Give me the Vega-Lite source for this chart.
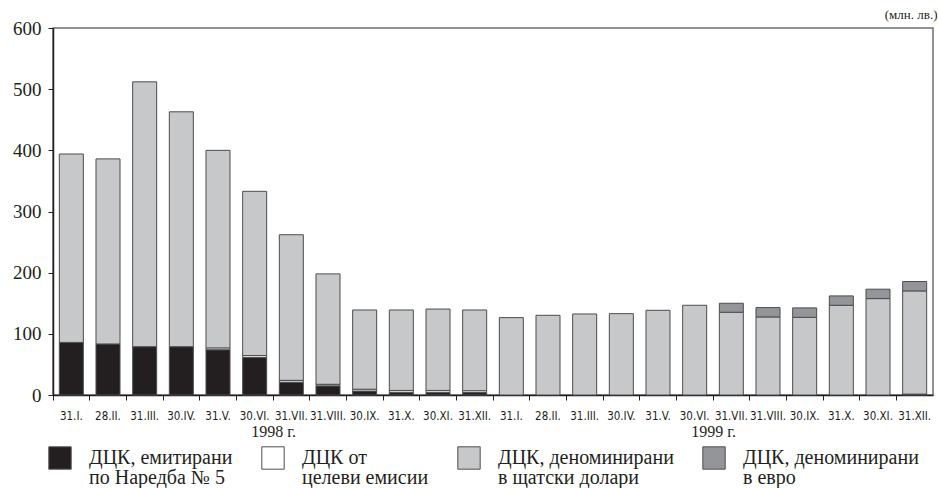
{
  "$schema": "https://vega.github.io/schema/vega-lite/v6.json",
  "width": 880,
  "height": 367,
  "autosize": {"type": "none"},
  "padding": {"left": 53, "top": 28, "right": 5, "bottom": 93},
  "background": "white",
  "config": {"view": {"stroke": "#6d6e71", "strokeWidth": 1.5}, "axis": {"grid": false}},
  "layer": [
    {
      "data": {"values": [
        {"d": "31.I.|98", "a": 86, "b": 0, "c": 308, "e": 0},
        {"d": "28.II.|98", "a": 83.5, "b": 0, "c": 302.5, "e": 0},
        {"d": "31.III.|98", "a": 79, "b": 0, "c": 433, "e": 0},
        {"d": "30.IV.|98", "a": 79, "b": 0, "c": 384, "e": 0},
        {"d": "31.V.|98", "a": 74, "b": 3, "c": 323, "e": 0},
        {"d": "30.VI.|98", "a": 61.5, "b": 3, "c": 268.5, "e": 0},
        {"d": "31.VII.|98", "a": 21, "b": 3, "c": 238, "e": 0},
        {"d": "31.VIII.|98", "a": 15, "b": 2.5, "c": 180.5, "e": 0},
        {"d": "30.IX.|98", "a": 6.5, "b": 3, "c": 129.5, "e": 0},
        {"d": "31.X.|98", "a": 4.5, "b": 3, "c": 131.5, "e": 0},
        {"d": "30.XI.|98", "a": 4.5, "b": 3, "c": 133, "e": 0},
        {"d": "31.XII.|98", "a": 4, "b": 3, "c": 132, "e": 0},
        {"d": "31.I.|99", "a": 0, "b": 0, "c": 126.5, "e": 0},
        {"d": "28.II.|99", "a": 0, "b": 0, "c": 130.3, "e": 0},
        {"d": "31.III.|99", "a": 0, "b": 0, "c": 132.5, "e": 0},
        {"d": "30.IV.|99", "a": 0, "b": 0, "c": 133, "e": 0},
        {"d": "31.V.|99", "a": 0, "b": 0, "c": 138.5, "e": 0},
        {"d": "30.VI.|99", "a": 0, "b": 0, "c": 146.7, "e": 0},
        {"d": "31.VII.|99", "a": 0, "b": 0, "c": 135.3, "e": 14.7},
        {"d": "31.VIII.|99", "a": 0, "b": 0, "c": 127.6, "e": 15.3},
        {"d": "30.IX.|99", "a": 0, "b": 0, "c": 127, "e": 15.4},
        {"d": "31.X.|99", "a": 0, "b": 0, "c": 146.7, "e": 15.3},
        {"d": "30.XI.|99", "a": 0, "b": 0, "c": 157.6, "e": 15.4},
        {"d": "31.XII.|99", "a": 1.5, "b": 0, "c": 168.7, "e": 15.3}
      ]},
      "transform": [
        {"fold": ["a", "b", "c", "e"], "as": ["s", "v"]},
        {"filter": "datum.v > 0"}
      ],
      "mark": {"type": "bar", "stroke": "#4d4d4f", "strokeWidth": 1, "width": {"band": 0.655}},
      "encoding": {
        "x": {"field": "d", "type": "nominal", "sort": null,
          "scale": {"paddingInner": 0, "paddingOuter": 0},
          "axis": {"title": null, "labelExpr": "split(datum.label, '|')[0]", "labelAngle": 0, "bandPosition": 0,
            "domainColor": "#231f20", "domainWidth": 1.5, "tickColor": "#231f20", "tickSize": 5,
            "labelFont": "DejaVu Sans Condensed", "labelFontSize": 11.5, "labelColor": "#231f20",
            "labelPadding": 10, "labelBaseline": "top"}},
        "y": {"field": "v", "type": "quantitative", "stack": "zero",
          "scale": {"domain": [0, 600], "nice": false},
          "axis": {"title": "(млн. лв.)", "titleAngle": 0, "titleAlign": "right", "titleBaseline": "alphabetic",
            "titleX": 884, "titleY": -10, "titleFont": "Liberation Serif", "titleFontSize": 13, "titleFontWeight": "normal", "titleColor": "#231f20",
            "values": [0, 100, 200, 300, 400, 500, 600], "tickSize": 5,
            "labelFont": "Liberation Serif", "labelFontSize": 19, "labelPadding": 7,
            "domainColor": "#231f20", "tickColor": "#231f20", "labelColor": "#231f20", "domainWidth": 1.5}},
        "color": {"field": "s", "type": "nominal",
          "scale": {"domain": ["a", "b", "c", "e"], "range": ["#231f20", "#ffffff", "#c7c8ca", "#939598"]},
          "legend": {"title": null, "orient": "none", "direction": "horizontal", "legendX": -5, "legendY": 418,
            "symbolType": "square", "symbolSize": 500, "symbolStrokeColor": "#4d4d4f", "symbolStrokeWidth": 1, "symbolOpacity": 1,
            "labelFont": "Liberation Serif", "labelFontSize": 20, "labelColor": "#231f20", "labelOffset": 17,
            "columnPadding": 26, "labelLimit": 300, "padding": 0,
            "labelExpr": "datum.value == 'a' ? ['ДЦК, емитирани', 'по Наредба № 5'] : datum.value == 'b' ? ['ДЦК от', 'целеви емисии'] : datum.value == 'c' ? ['ДЦК, деноминирани', 'в щатски долари'] : ['ДЦК, деноминирани', 'в евро']",
            "encode": {"labels": {"update": {"lineHeight": {"value": 20}}}}}},
        "order": {"field": "s", "sort": "ascending"}
      }
    },
    {
      "data": {"values": [{"year": "1998 г."}, {"year": "1999 г."}]},
      "mark": {"type": "text", "text": ""},
      "encoding": {
        "x": {"field": "year", "type": "nominal", "sort": null,
          "scale": {"paddingInner": 0, "paddingOuter": 0},
          "axis": {"title": null, "orient": "bottom", "domain": false, "ticks": false, "labelAngle": 0,
            "labelFont": "Liberation Serif", "labelFontSize": 16, "labelPadding": 28, "labelColor": "#231f20", "labelBaseline": "top"}}
      }
    }
  ],
  "resolve": {"scale": {"x": "independent"}, "axis": {"x": "independent"}}
}
